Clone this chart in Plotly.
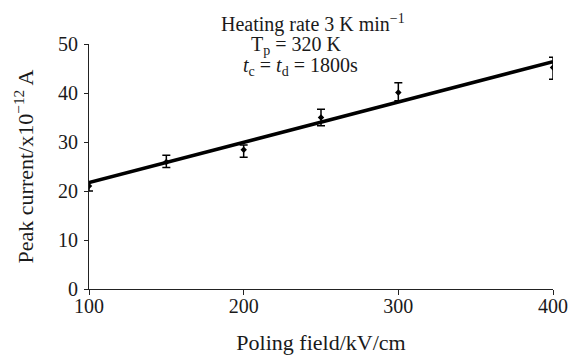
import plotly.graph_objects as go

# Data
poling_field = [100, 150, 200, 250, 300, 400]
peak_current = [21.0, 25.9, 28.4, 35.0, 40.1, 45.2]
err_plus = [0.9, 1.4, 1.0, 1.7, 2.0, 2.1]
err_minus = [1.0, 1.1, 1.5, 1.7, 1.7, 2.4]

fit_x = [100, 400]
fit_y = [21.7, 46.4]

x_ticks = [100, 200, 300, 400]
y_ticks = [0, 10, 20, 30, 40, 50]

FONT = "Liberation Serif"
INK = "#1a1a1a"

fig = go.Figure()
fig.add_trace(go.Scatter(
    x=fit_x, y=fit_y, mode="lines",
    line=dict(color="black", width=3.5),
    showlegend=False, hoverinfo="skip",
))
fig.add_trace(go.Scatter(
    x=poling_field, y=peak_current, mode="markers",
    marker=dict(symbol="diamond", size=5, color="black"),
    error_y=dict(type="data", symmetric=False, array=err_plus,
                 arrayminus=err_minus, color="black", thickness=1.5, width=4),
    showlegend=False,
))

W, H = 571, 356
L, R, T, B = 89, 18, 44, 67
pw, ph = W - L - R, H - T - B

def px(xs):
    return (xs - L) / pw

def py(ys):
    return (H - B - ys) / ph

fig.update_layout(
    width=W, height=H,
    margin=dict(l=L, r=R, t=T, b=B, autoexpand=False),
    paper_bgcolor="white", plot_bgcolor="white",
    font=dict(family=FONT, color=INK, size=20),
    xaxis=dict(
        range=[100, 400], tickvals=x_ticks, showgrid=False, zeroline=False,
        showline=True, linecolor="#222", linewidth=1,
        ticks="outside", ticklen=5, tickwidth=1, tickcolor="#222",
        tickfont=dict(size=20, family=FONT, color=INK), ticklabelstandoff=-6,
        title=dict(text="Poling field/kV/cm", font=dict(size=22, family=FONT, color=INK), standoff=18),
        automargin=False,
    ),
    yaxis=dict(
        range=[0, 50], tickvals=y_ticks, showgrid=False, zeroline=False,
        showline=True, linecolor="#222", linewidth=1,
        ticks="outside", ticklen=4, tickwidth=1, tickcolor="#222",
        tickfont=dict(size=20, family=FONT, color=INK), ticklabelstandoff=2,
        title=dict(text="Peak current/x10<sup>−12</sup> A", font=dict(size=22, family=FONT, color=INK), standoff=18),
        automargin=False,
    ),
)

notes = [
    ("Heating rate 3 K min<sup>−1</sup>", 313, 23),
    ("T<sub>p</sub> = 320 K", 296, 45),
    ("<i>t</i><sub>c</sub> = <i>t</i><sub>d</sub> = 1800s", 300, 66),
]
for text, xc, yc in notes:
    fig.add_annotation(
        text=text, x=px(xc), y=py(yc), xref="paper", yref="paper",
        xanchor="center", yanchor="middle", showarrow=False,
        font=dict(size=20, family=FONT, color=INK),
    )

fig.write_html(
    "out.html",
    config={"displayModeBar": False},
    post_script="document.body.style.margin='0';document.body.style.overflow='hidden';",
)
